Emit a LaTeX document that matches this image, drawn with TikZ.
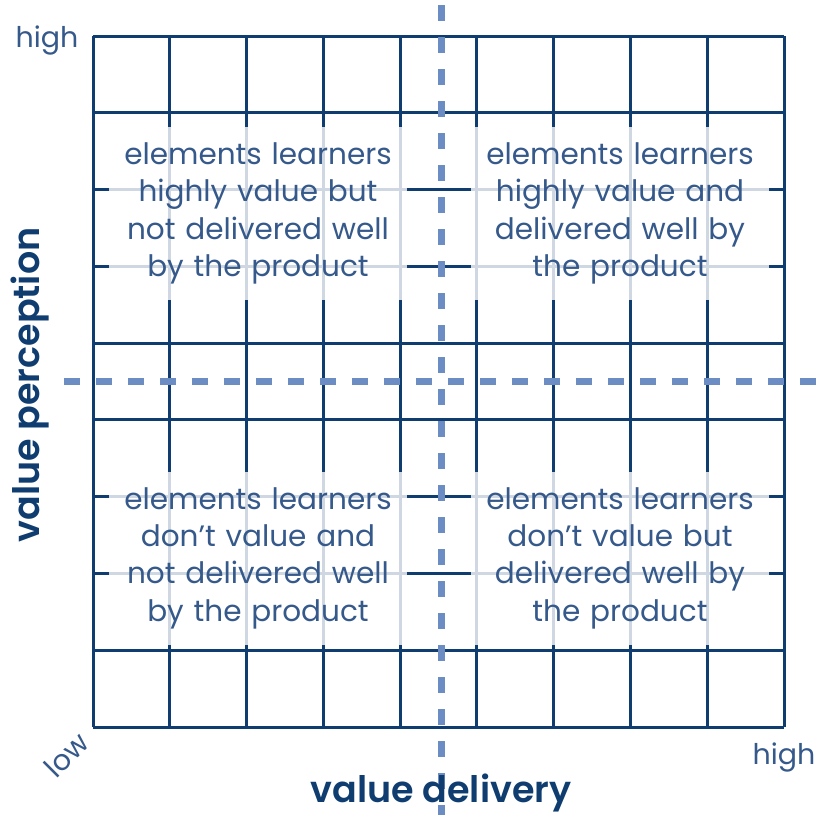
\documentclass[tikz,border=0pt]{standalone}
\usepackage{fontspec}
\setmainfont{Poppins}[BoldFont={Poppins SemiBold}]
\definecolor{navy}{HTML}{0F3D70}
\definecolor{txtblue}{HTML}{35598A}
\definecolor{dashblue}{HTML}{6C8CC4}
\begin{document}
\begin{tikzpicture}[x=1pt,y=-1pt,
  gridline/.style={draw=navy,line width=3pt},
  quad/.style={fill=white,fill opacity=0.8,text opacity=1,text=txtblue,
    minimum width=298pt,minimum height=173pt,text width=298pt,align=center,
    inner sep=0pt,font=\fontsize{29.5}{37.3}\selectfont},
  axislbl/.style={text=navy,font=\fontsize{36.5}{40}\selectfont\bfseries,inner sep=0pt},
  endlbl/.style={text=txtblue,font=\fontsize{28.5}{30}\selectfont,inner sep=0pt},
  dashline/.style={draw=dashblue,line width=7pt,dash pattern=on 16pt off 16pt}]
\useasboundingbox (0,0) rectangle (816,815);
% grid
\foreach \i in {0,...,9}{
  \draw[gridline] ({93+76.778*\i},36) -- ({93+76.778*\i},727);
  \draw[gridline] (93,{36+76.778*\i}) -- (784,{36+76.778*\i});
}
% quadrant texts
\node[quad] (tl) at (258,213.5) {elements learners\\highly value but\\not delivered well\\by the product};
\node[quad] (tr) at (620,213.5) {elements learners\\highly value and\\delivered well by\\the product};
\node[quad] (bl) at (258,558) {elements learners\\don’t value and\\not delivered well\\by the product};
\node[quad] (br) at (620,558) {elements learners\\don’t value but\\delivered well by\\the product};
% dashed axes
\coordinate (vtop) at (441,5);
\coordinate (vbot) at (441,815);
\coordinate (hleft) at (64,381.5);
\coordinate (hright) at (816,381.5);
\draw[dashline] (vtop) -- (vbot);
\draw[dashline] (hleft) -- (hright);
% labels
\node[endlbl] (hightop) at (47,40) {high};
\node[endlbl] (highright) at (784,757) {high};
\node[endlbl,rotate=45] (low) at (66,755) {low};
\node[axislbl,rotate=90] (vp) at (30,385) {value perception};
\node[axislbl] (vd) at (441,793) {value delivery};
\end{tikzpicture}
\end{document}
